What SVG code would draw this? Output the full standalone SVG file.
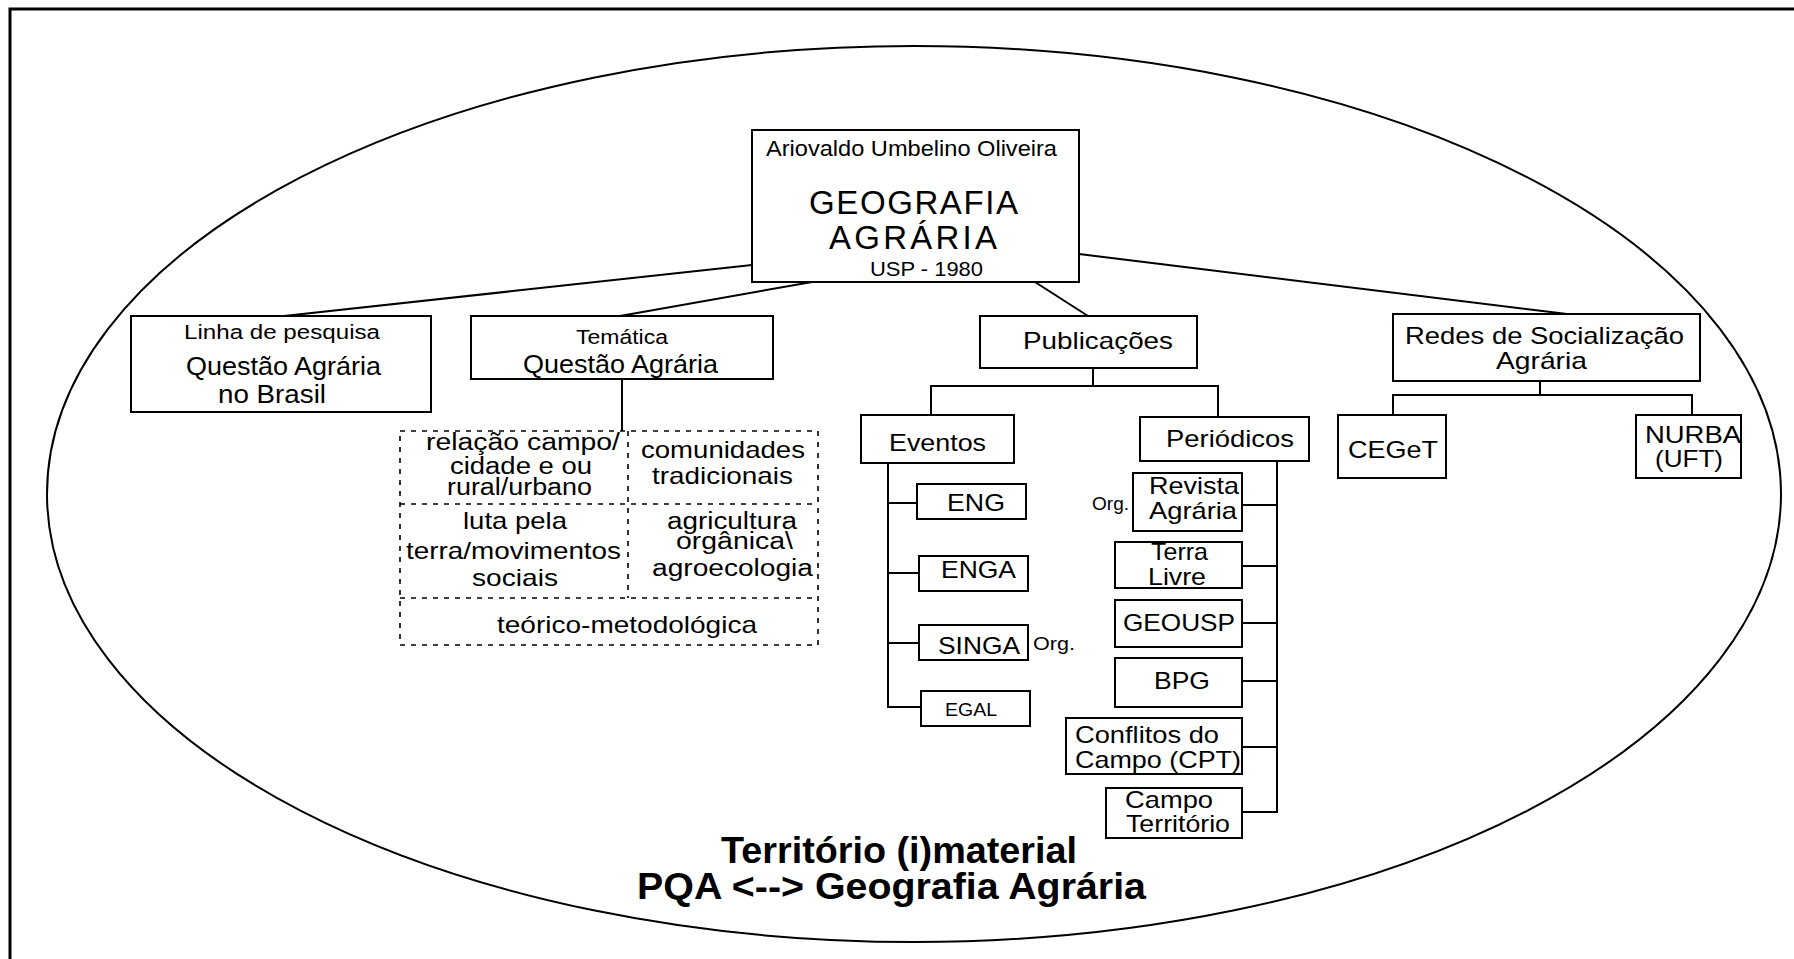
<svg xmlns="http://www.w3.org/2000/svg" width="1794" height="959" viewBox="0 0 1794 959">
<style>
.bg{fill:#fff}
.box{fill:#fff;stroke:#000;stroke-width:2}
.dash{fill:none;stroke:#000;stroke-width:1.6;stroke-dasharray:5 6}
.ln{fill:none;stroke:#000;stroke-width:2}
.t{font-family:"Liberation Sans",Arial,sans-serif;fill:#000}
.b{font-family:"Liberation Sans",Arial,sans-serif;font-weight:bold;fill:#000}
</style>
<rect class="bg" x="0" y="0" width="1794" height="959"/>
<g id="frame">
<polyline class="ln" points="10,959 10,9 1794,9" style="stroke-width:3"/>
<ellipse class="ln" cx="914" cy="494" rx="867" ry="448"/>
</g>
<g id="connectors">
<line class="ln" x1="752" y1="265" x2="284" y2="316"/>
<line class="ln" x1="812" y1="282" x2="620" y2="316"/>
<line class="ln" x1="1035" y1="282" x2="1088" y2="316"/>
<line class="ln" x1="1079" y1="254" x2="1567" y2="314"/>
<line class="ln" x1="622" y1="379" x2="622" y2="431"/>
<polyline class="ln" points="1093,368 1093,386"/>
<polyline class="ln" points="931,415 931,386 1218,386 1218,417"/>
<line class="ln" x1="888" y1="463" x2="888" y2="707"/>
<line class="ln" x1="888" y1="503" x2="917" y2="503"/>
<line class="ln" x1="888" y1="573" x2="919" y2="573"/>
<line class="ln" x1="888" y1="643" x2="919" y2="643"/>
<line class="ln" x1="887" y1="707" x2="921" y2="707"/>
<line class="ln" x1="1277" y1="461" x2="1277" y2="812"/>
<line class="ln" x1="1242" y1="505" x2="1277" y2="505"/>
<line class="ln" x1="1242" y1="566" x2="1277" y2="566"/>
<line class="ln" x1="1242" y1="623" x2="1277" y2="623"/>
<line class="ln" x1="1242" y1="681" x2="1277" y2="681"/>
<line class="ln" x1="1242" y1="747" x2="1277" y2="747"/>
<line class="ln" x1="1242" y1="812" x2="1278" y2="812"/>
<line class="ln" x1="1540" y1="381" x2="1540" y2="395"/>
<polyline class="ln" points="1393,415 1393,395 1692,395 1692,415"/>
</g>
<g id="n-main">
<rect class="box" x="752" y="130" width="327" height="152"/>
<text class="t" x="766" y="156" font-size="22" textLength="291" lengthAdjust="spacingAndGlyphs">Ariovaldo Umbelino Oliveira</text>
<text class="t" x="809" y="214" font-size="33" textLength="209" lengthAdjust="spacing">GEOGRAFIA</text>
<text class="t" x="829" y="249" font-size="33" textLength="168" lengthAdjust="spacing">AGRÁRIA</text>
<text class="t" x="870" y="276" font-size="21" textLength="113" lengthAdjust="spacingAndGlyphs">USP - 1980</text>
</g>
<g id="n-linha">
<rect class="box" x="131" y="316" width="300" height="96"/>
<text class="t" x="184" y="339" font-size="20" textLength="196" lengthAdjust="spacingAndGlyphs">Linha de pesquisa</text>
<text class="t" x="186" y="375" font-size="25" textLength="195" lengthAdjust="spacingAndGlyphs">Questão Agrária</text>
<text class="t" x="218" y="403" font-size="25" textLength="108" lengthAdjust="spacingAndGlyphs">no Brasil</text>
</g>
<g id="n-tematica">
<rect class="box" x="471" y="316" width="302" height="63"/>
<text class="t" x="576" y="344" font-size="20" textLength="92" lengthAdjust="spacingAndGlyphs">Temática</text>
<text class="t" x="523" y="373" font-size="25" textLength="195" lengthAdjust="spacingAndGlyphs">Questão Agrária</text>
</g>
<g id="n-temas">
<rect class="dash" x="400" y="431" width="418" height="214"/>
<line class="dash" x1="628" y1="431" x2="628" y2="598"/>
<line class="dash" x1="400" y1="504" x2="818" y2="504"/>
<line class="dash" x1="400" y1="598" x2="818" y2="598"/>
<text class="t" x="426" y="450" font-size="23" textLength="194" lengthAdjust="spacingAndGlyphs">relação campo/</text>
<text class="t" x="450" y="474" font-size="23" textLength="142" lengthAdjust="spacingAndGlyphs">cidade e ou</text>
<text class="t" x="447" y="495" font-size="23" textLength="145" lengthAdjust="spacingAndGlyphs">rural/urbano</text>
<text class="t" x="641" y="458" font-size="24" textLength="164" lengthAdjust="spacingAndGlyphs">comunidades</text>
<text class="t" x="652" y="484" font-size="24" textLength="141" lengthAdjust="spacingAndGlyphs">tradicionais</text>
<text class="t" x="463" y="529" font-size="24" textLength="104" lengthAdjust="spacingAndGlyphs">luta pela</text>
<text class="t" x="406" y="559" font-size="24" textLength="215" lengthAdjust="spacingAndGlyphs">terra/movimentos</text>
<text class="t" x="472" y="586" font-size="24" textLength="86" lengthAdjust="spacingAndGlyphs">sociais</text>
<text class="t" x="667" y="529" font-size="23" textLength="130" lengthAdjust="spacingAndGlyphs">agricultura</text>
<text class="t" x="676" y="549" font-size="23" textLength="117" lengthAdjust="spacingAndGlyphs">orgânica\</text>
<text class="t" x="652" y="576" font-size="23" textLength="161" lengthAdjust="spacingAndGlyphs">agroecologia</text>
<text class="t" x="497" y="633" font-size="24" textLength="260" lengthAdjust="spacingAndGlyphs">teórico-metodológica</text>
</g>
<g id="n-publicacoes">
<rect class="box" x="980" y="316" width="217" height="52"/>
<text class="t" x="1023" y="349" font-size="24" textLength="150" lengthAdjust="spacingAndGlyphs">Publicações</text>
</g>
<g id="n-eventos">
<rect class="box" x="861" y="415" width="153" height="48"/>
<text class="t" x="889" y="451" font-size="24" textLength="97" lengthAdjust="spacingAndGlyphs">Eventos</text>
</g>
<g id="n-periodicos">
<rect class="box" x="1140" y="417" width="169" height="44"/>
<text class="t" x="1166" y="447" font-size="24" textLength="128" lengthAdjust="spacingAndGlyphs">Periódicos</text>
</g>
<g id="n-eng">
<rect class="box" x="917" y="484" width="109" height="35"/>
<text class="t" x="947" y="511" font-size="24" textLength="58" lengthAdjust="spacingAndGlyphs">ENG</text>
</g>
<g id="n-enga">
<rect class="box" x="919" y="556" width="109" height="35"/>
<text class="t" x="941" y="578" font-size="24" textLength="75" lengthAdjust="spacingAndGlyphs">ENGA</text>
</g>
<g id="n-singa">
<rect class="box" x="919" y="625" width="109" height="35"/>
<text class="t" x="938" y="654" font-size="24" textLength="82" lengthAdjust="spacingAndGlyphs">SINGA</text>
<text class="t" x="1033" y="650" font-size="18" textLength="42" lengthAdjust="spacingAndGlyphs">Org.</text>
</g>
<g id="n-egal">
<rect class="box" x="921" y="691" width="109" height="35"/>
<text class="t" x="945" y="716" font-size="18" textLength="52" lengthAdjust="spacingAndGlyphs">EGAL</text>
</g>
<g id="n-revista">
<rect class="box" x="1133" y="473" width="109" height="58"/>
<text class="t" x="1149" y="494" font-size="24" textLength="90" lengthAdjust="spacingAndGlyphs">Revista</text>
<text class="t" x="1149" y="519" font-size="24" textLength="88" lengthAdjust="spacingAndGlyphs">Agrária</text>
<text class="t" x="1092" y="510" font-size="18" textLength="37" lengthAdjust="spacingAndGlyphs">Org.</text>
</g>
<g id="n-terralivre">
<rect class="box" x="1115" y="542" width="127" height="46"/>
<text class="t" x="1151" y="560" font-size="24" textLength="57" lengthAdjust="spacingAndGlyphs">Terra</text>
<text class="t" x="1148" y="585" font-size="24" textLength="58" lengthAdjust="spacingAndGlyphs">Livre</text>
</g>
<g id="n-geousp">
<rect class="box" x="1115" y="600" width="127" height="47"/>
<text class="t" x="1123" y="631" font-size="24" textLength="112" lengthAdjust="spacingAndGlyphs">GEOUSP</text>
</g>
<g id="n-bpg">
<rect class="box" x="1115" y="658" width="127" height="49"/>
<text class="t" x="1154" y="689" font-size="24" textLength="56" lengthAdjust="spacingAndGlyphs">BPG</text>
</g>
<g id="n-conflitos">
<rect class="box" x="1066" y="718" width="176" height="56"/>
<text class="t" x="1075" y="743" font-size="24" textLength="144" lengthAdjust="spacingAndGlyphs">Conflitos do</text>
<text class="t" x="1075" y="768" font-size="24" textLength="166" lengthAdjust="spacingAndGlyphs">Campo (CPT)</text>
</g>
<g id="n-campoterritorio">
<rect class="box" x="1106" y="788" width="136" height="50"/>
<text class="t" x="1125" y="808" font-size="24" textLength="88" lengthAdjust="spacingAndGlyphs">Campo</text>
<text class="t" x="1126" y="832" font-size="24" textLength="104" lengthAdjust="spacingAndGlyphs">Território</text>
</g>
<g id="n-redes">
<rect class="box" x="1393" y="314" width="307" height="67"/>
<text class="t" x="1405" y="344" font-size="24" textLength="279" lengthAdjust="spacingAndGlyphs">Redes de Socialização</text>
<text class="t" x="1496" y="369" font-size="24" textLength="91" lengthAdjust="spacingAndGlyphs">Agrária</text>
</g>
<g id="n-ceget">
<rect class="box" x="1338" y="415" width="108" height="63"/>
<text class="t" x="1348" y="458" font-size="24" textLength="90" lengthAdjust="spacingAndGlyphs">CEGeT</text>
</g>
<g id="n-nurba">
<rect class="box" x="1636" y="415" width="105" height="63"/>
<text class="t" x="1645" y="443" font-size="24" textLength="96" lengthAdjust="spacingAndGlyphs">NURBA</text>
<text class="t" x="1655" y="467" font-size="24" textLength="68" lengthAdjust="spacingAndGlyphs">(UFT)</text>
</g>
<g id="title">
<text class="b" x="721" y="863" font-size="37" textLength="356" lengthAdjust="spacingAndGlyphs">Território (i)material</text>
<text class="b" x="637" y="899" font-size="37" textLength="509" lengthAdjust="spacingAndGlyphs">PQA &lt;--&gt; Geografia Agrária</text>
</g>
</svg>
